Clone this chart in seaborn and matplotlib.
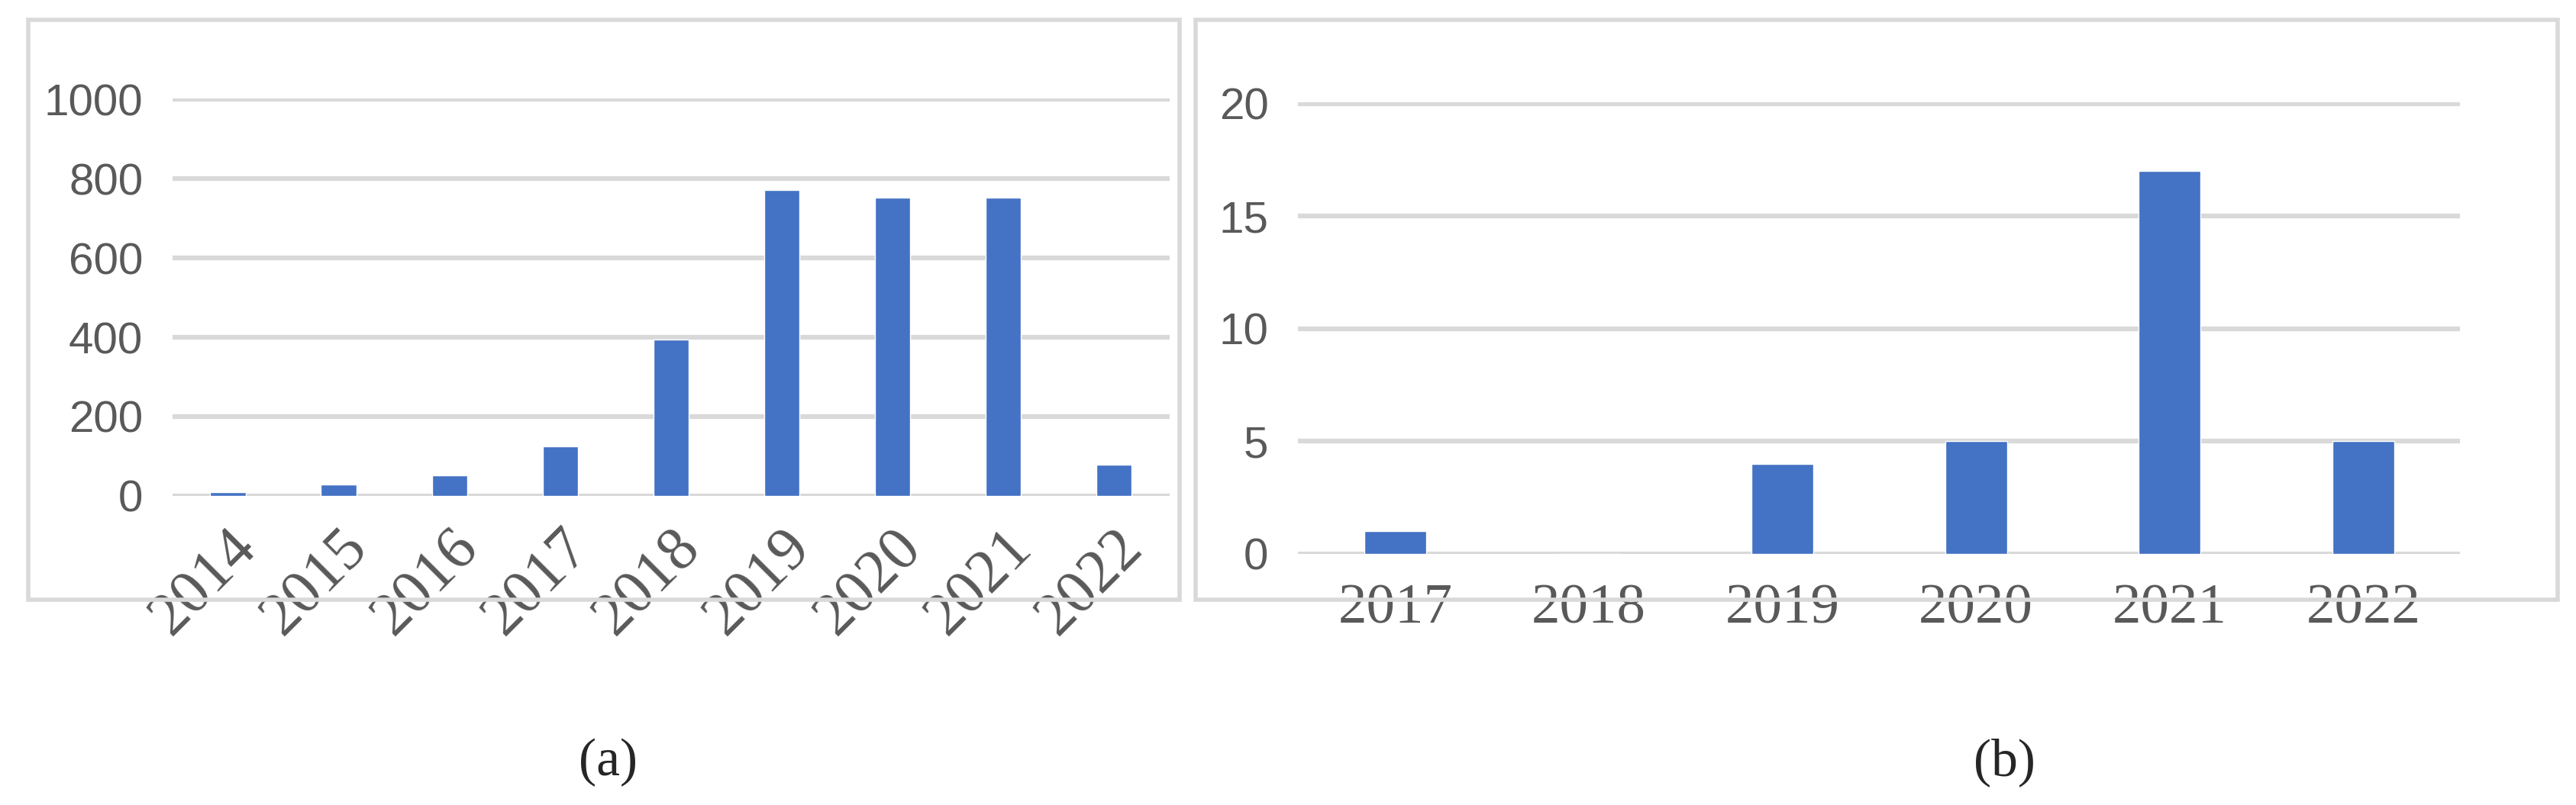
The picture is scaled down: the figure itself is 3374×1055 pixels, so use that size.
import matplotlib
matplotlib.use("Agg")
import matplotlib.pyplot as plt
import seaborn as sns
import pandas as pd
from matplotlib.patches import Rectangle

# panel (a)
years_a = ["2014", "2015", "2016", "2017", "2018", "2019", "2020", "2021", "2022"]
counts_a = [9, 28, 51, 124, 395, 771, 753, 753, 79]
yticks_a = [0, 200, 400, 600, 800, 1000]

# panel (b)
years_b = ["2017", "2018", "2019", "2020", "2021", "2022"]
counts_b = [1, 0, 4, 5, 17, 5]
yticks_b = [0, 5, 10, 15, 20]

BAR = "#4472C4"
GRID = "#D9D9D9"
TXT = "#595959"

sns.set_style("white")
plt.rcParams["font.family"] = ["Liberation Sans", "DejaVu Sans"]

fig = plt.figure(figsize=(33.74, 10.55), dpi=100)

# grey frames around each panel
for x0, w in [(0.011, 0.447), (0.464, 0.529)]:
    fig.patches.append(Rectangle((x0, 0.255), w, 0.72, transform=fig.transFigure,
                                 fill=False, edgecolor=GRID, lw=4))

ax_a = fig.add_axes([0.067, 0.384, 0.387, 0.494])
ax_b = fig.add_axes([0.504, 0.312, 0.451, 0.561])


def draw(ax, years, counts, yticks, top):
    df = pd.DataFrame({"year": years, "count": counts})
    sns.barplot(data=df, x="year", y="count", color=BAR, saturation=1,
                width=0.32, ax=ax, zorder=3)
    ax.set_ylim(0, top)
    ax.set_yticks(yticks)
    ax.yaxis.grid(True, color=GRID, lw=4.5, zorder=0)
    ax.set_axisbelow(True)
    for s in ax.spines.values():
        s.set_visible(False)
    ax.set_xlabel("")
    ax.set_ylabel("")
    ax.tick_params(length=0, colors=TXT)
    ax.tick_params(axis="y", pad=28)
    for t in ax.get_yticklabels():
        t.set_fontsize(42)
        t.set_color(TXT)


draw(ax_a, years_a, counts_a, yticks_a, 1003)
draw(ax_b, years_b, counts_b, yticks_b, 20.06)

for t in ax_a.get_xticklabels():
    t.set_family("Liberation Serif")
    t.set_fontsize(58)
    t.set_rotation(45)
    t.set_ha("right")
    t.set_rotation_mode("anchor")
    t.set_color(TXT)
ax_a.tick_params(axis="x", pad=22)
for t in ax_b.get_xticklabels():
    t.set_family("Liberation Serif")
    t.set_fontsize(54)
    t.set_color(TXT)
ax_b.tick_params(axis="x", pad=28)

fig.text(0.236, 0.053, "(a)", ha="center", va="center", fontsize=50,
         family="Liberation Serif")
fig.text(0.778, 0.053, "(b)", ha="center", va="center", fontsize=50,
         family="Liberation Serif")

fig.savefig("out.png", dpi=100)
